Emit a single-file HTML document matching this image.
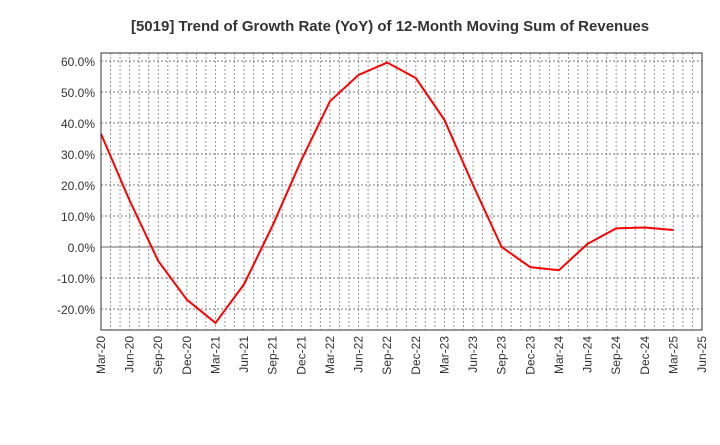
<!DOCTYPE html>
<html><head><meta charset="utf-8"><style>
body{margin:0;background:#fff;font-family:"Liberation Sans",sans-serif}
</style></head><body>
<svg width="720" height="440" xmlns="http://www.w3.org/2000/svg">
<text x="390" y="31" text-anchor="middle" font-size="15" font-weight="bold" fill="#333">[5019]  Trend of Growth Rate (YoY) of 12-Month Moving Sum of Revenues</text>
<g id="grid"></g>
<g id="yaxis"></g>
<g id="xaxis"></g>
<path id="line" fill="none" stroke="#ff0000" stroke-width="2"/>
<rect x="101" y="53" width="601" height="277" fill="none" stroke="#333"/>
</svg>
<script>
const xLabels=["Mar-20","Jun-20","Sep-20","Dec-20","Mar-21","Jun-21","Sep-21","Dec-21","Mar-22","Jun-22","Sep-22","Dec-22","Mar-23","Jun-23","Sep-23","Dec-23","Mar-24","Jun-24","Sep-24","Dec-24","Mar-25","Jun-25"];
const yTicks=[-20,-10,0,10,20,30,40,50,60];
const values=[36.5,15,-4.5,-17,-24.5,-12,7,28,47,55.5,59.5,54.5,41,20,0,-6.5,-7.5,1,6,6.3,5.5];
const L=101,R=702,T=53,B=330;
const y=v=>247-v*3.1;
const x=i=>L+i*(R-L)/(xLabels.length-1);
const ns="http://www.w3.org/2000/svg";
function mk(t,a,p){const e=document.createElementNS(ns,t);for(const k in a)e.setAttribute(k,a[k]);p.appendChild(e);return e;}
const g=document.getElementById('grid'),ya=document.getElementById('yaxis'),xa=document.getElementById('xaxis');
for(let m=1;m<(xLabels.length-1)*3;m++){const xx=L+m*(R-L)/((xLabels.length-1)*3);
const l=mk('line',{x1:xx,x2:xx,y1:T,y2:B,stroke:'#999','stroke-dasharray':'2,2','stroke-width':1},g);
}
yTicks.forEach(v=>{const l=mk('line',{x1:L,x2:R,y1:y(v),y2:y(v),stroke:v===0?'#666':'#777','stroke-dasharray':v===0?'':'2,2','stroke-width':1},g);

const t=mk('text',{x:L-6,y:y(v)+5,'text-anchor':'end','font-size':12,fill:'#333'},ya);t.textContent=v.toFixed(1)+'%';
});
xLabels.forEach((s,i)=>{const t=mk('text',{transform:`translate(${x(i)+4},${B+6}) rotate(-90)`,'text-anchor':'end','font-size':12,fill:'#333'},xa);t.textContent=s;
});
document.getElementById('line').setAttribute('d',values.map((v,i)=>(i?'L':'M')+x(i)+','+y(v)).join(''));
</script>
</body></html>
